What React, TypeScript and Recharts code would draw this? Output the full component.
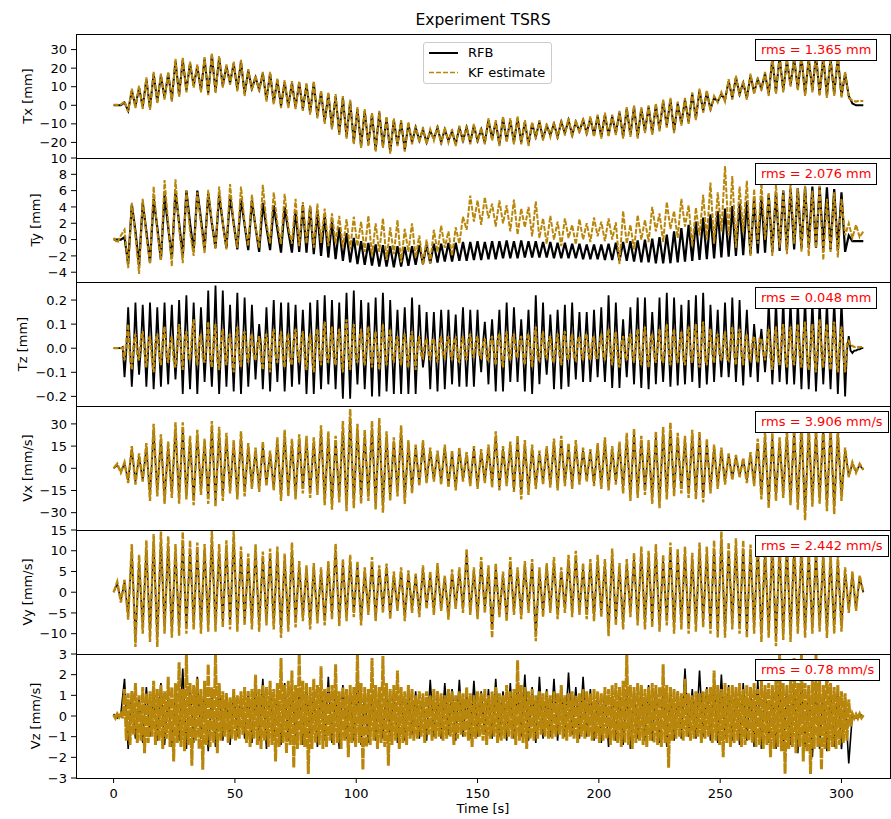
import React from "react";
import { LineChart, Line, XAxis, YAxis } from "recharts";

const SAMPLE_DT = 1.5;
const FINE_DT = 0.75;

const timeTicks = [0, 50, 100, 150, 200, 250, 300];

// Tx [mm]
const txRfb = [0,0,0,1.5,-3,8,-0.5,9.5,-1,14,-1.5,17,2,16,4,17,3,24,5.5,24.5,8,22.5,10.5,21,8,25,6.5,27,7.5,25.5,10.5,21,12,22.5,8.5,23.5,6,18.5,9,15,8.5,17,3,17,1.5,13.5,-0.5,12.5,-0.5,12,-1,
  12,-2,11,-4,12,-6,7,-9,6,-12,5,-15,4,-17,2,-20,-2,-22,-3,-21,-5,-24,-4,-22,-7,-25,-8,-21,-9,-24,-10,-20,-12,-19,-13,-20,-14,-18,-12,-20,-13,-19,-14,-21,-12,-19,-12,-20,-11,-19,-13,-20,-8,-18,-9,-21,-7,-19,-8,-20,-7,-20,-9,-21,-10,-17,-9,-18,-11,-16,-10,-17,-9,-15,-8,-16,-9,-14,-8,-15,-7,-16,
  -6,-17,-5,-16,-6,-15,-4,-17,-2,-16,-1,-17,-2,-14,-1,-15,0,-13,2,-11,3,-14,1,-10,3,-9,6,-7,8,-3,7,-2,4,2,6,3,13,4,15,6,12,4,16,7,14,9,17,6,25,7,26,8,24,11,25,9,26,6,25,8,27,6,26,5,25,6,26,5,17,5,1,0,0,0];
const txKf = [0.3,0.2,0.4,2,-3.5,9,-1.5,10.5,-2,15,-2.5,18,1,17,3,18,2,25,4.5,25.5,7,23.5,9.5,22,7,26,5.5,28,6.5,26.5,9.5,22,11,23.5,7.5,24.5,5,19.5,8,16,7.5,18,2,18,0.5,14.5,-1.5,13.5,-1.5,13,-2,
  13,-3,12,-5,13,-7,8,-10,7,-13,6,-16,5,-18,3,-21,-1,-23,-2,-22,-4,-25,-3,-23,-6,-26,-7,-22,-8,-25,-9,-21,-11,-20,-12,-21,-13,-19,-11,-21,-12,-20,-13,-22,-11,-20,-11,-21,-10,-20,-12,-21,-7,-19,-8,-22,-6,-20,-7,-21,-6,-21,-8,-22,-9,-18,-8,-19,-10,-17,-9,-18,-8,-16,-7,-17,-8,-15,-7,-16,-6,-17,
  -5,-18,-4,-17,-5,-16,-3,-18,-1,-17,0,-18,-1,-15,0,-16,1,-14,3,-12,4,-15,2,-11,4,-10,7,-8,9,-4,8,-3,5,1.5,7,2,14,3,16,5,13,3,17,6,15,8,18,5,26,6,27,7,25,10,26,8,27,5,26,7,28,5,27,4,26,5,27,4,18,4,2.5,2,2.5,2.2];

// Ty [mm]
const tyRfb = [0,0,0,0.3,-3,4.3,1,-3.2,4.5,1,-2.8,5,1.5,-2.5,5.5,1.5,-2.3,6,2,-2,6,2,-1.5,6,2.5,-1.2,5.6,2,-1,5.5,2,-1,5.3,2,-1.2,5,1.8,-1.3,4.8,1.5,-1.5,4.5,1.5,-1.3,4.2,1.3,-1.6,4,1,-1.6,3.6,
  -1.5,4.2,-1.6,4,-1.8,3.5,-2,3,-2.2,2.2,-2.4,1.5,-2.6,0.8,-2.8,0.2,-3,-0.2,-3.1,-0.4,-3.2,-0.6,-3.3,-0.7,-3.3,-0.8,-3.4,-0.8,-3.3,-0.9,-3.2,-0.8,-3.1,-0.7,-3,-0.6,-2.9,-0.5,-2.8,-0.5,-2.7,-0.4,-2.7,-0.4,-2.6,-0.3,-2.6,-0.3,-2.5,-0.2,-2.5,-0.3,-2.4,-0.2,-2.4,-0.2,-2.3,-0.1,-2.3,-0.2,-2.3,-0.1,-2.2,-0.2,-2.2,-0.2,-2.2,-0.3,-2.2,-0.3,-2.3,-0.4,-2.3,-0.4,-2.3,-0.5,-2.3,-0.5,-2.4,-0.6,-2.4,-0.6,
  -2.4,-0.6,-2.5,-0.5,-2.5,-0.4,-2.6,-0.3,-2.6,-0.2,-2.7,-0.1,-2.8,0,-2.8,0.1,-2.9,0.3,-2.9,0.6,-2.9,1,-2.8,1.4,-2.7,1.8,-2.6,2.2,-2.5,2.7,-2.4,3.1,-2.3,3.5,-2.2,3.8,-2.1,4.1,-2,4.4,-1.9,4.7,-1.8,5,-1.7,5.3,-1.6,5.5,-1.5,5.8,-1.4,6,-1.3,6.2,-1.2,6.3,-1.1,6.4,-1,6.5,-1,6.5,-1.1,6.4,-1.2,6.2,-1.3,5.8,-1.5,0.5,-0.2,-0.2,-0.2,-0.2];
const tyKf = [0.2,-0.4,0.5,1.2,-3.5,4.5,0.5,-4.2,5,0.5,-3,6.5,1,-2.5,7.3,2,-3.3,7.4,1.5,-2.9,6,1,-2,5.8,2,-1.7,6.1,2.2,-1.2,6.5,2,-1.2,6.8,1.8,-1,6.5,2,-0.8,5.5,1.5,-1,6.7,2,-0.5,5.8,2,-0.6,5.6,1.5,-0.5,5,
  -0.8,4.6,-0.5,4.2,-1,4.4,-0.4,3.8,-0.8,3.2,-0.5,2.9,-1,2.5,-1.2,2.8,-0.8,2.2,-1.5,2.9,-2,2,-1.5,2.6,-2.5,1.5,-1.8,2.4,-2.8,1.3,-1.5,2,-2.2,0.5,-3.1,0,-2.9,1.2,-1.5,1.7,-1,1,-2,1.5,-0.5,2.8,1.2,5.4,2.2,4.8,1.8,5.2,2.6,4.4,1.6,4.8,2,4.2,1,4.9,0.6,3.8,1.5,4,0.4,4.7,0.2,2.6,-0.5,2.9,0,2.2,-0.8,2.6,0.2,1.8,-0.6,2.5,0,2,-0.3,2.7,
  0.4,2.2,-0.2,2.6,0,2.1,-3,3.5,-0.5,1.8,-1.2,3,0,2.4,-0.3,4,1,3.2,-0.3,4.6,1.3,3.5,0.2,5,1.6,4.2,-0.8,3.9,0.5,5.5,0,7,-0.5,5.8,1,9,0.5,7.8,-1,6.5,0.9,7.2,-2,6.2,-0.5,7,0,5.8,-2,6.8,-1,6,-1.8,7,-0.5,6.3,-1.5,6.6,-2,6,-1,6.6,-2.5,5,-1.5,5.8,-2.2,5,0.5,2,0.2,1.8,0.3,1];

// Tz [mm]: spike extremes every 1.5 s, and the level read between them
const tzRfbPeaks = [0,0,0,-0.12,0.17,-0.16,0.19,-0.11,0.18,-0.16,0.19,-0.17,0.17,-0.16,0.19,-0.15,0.18,-0.13,0.2,-0.19,0.22,-0.17,0.19,-0.19,0.17,-0.14,0.24,-0.16,0.26,-0.19,0.24,-0.16,0.18,-0.18,0.23,-0.19,0.21,-0.16,0.18,-0.13,0.1,-0.17,0.17,-0.18,0.2,-0.14,0.19,-0.18,0.19,-0.16,0.18,
  -0.15,0.16,-0.19,0.19,-0.19,0.2,-0.17,0.22,-0.15,0.2,-0.17,0.19,-0.21,0.23,-0.21,0.24,-0.15,0.2,-0.17,0.19,-0.2,0.21,-0.2,0.23,-0.18,0.2,-0.19,0.16,-0.19,0.17,-0.19,0.21,-0.19,0.18,-0.08,0.15,-0.17,0.15,-0.18,0.16,-0.17,0.16,-0.15,0.14,-0.16,0.17,-0.16,0.16,-0.16,0.16,-0.1,0.11,-0.15,0.12,-0.18,0.16,-0.18,0.19,-0.14,0.17,-0.14,0.12,-0.18,0.16,-0.19,0.22,-0.15,0.19,-0.11,0.14,-0.17,0.16,-0.17,0.18,-0.16,0.19,-0.13,0.15,-0.14,0.15,-0.14,0.16,
  -0.12,0.17,-0.14,0.22,-0.165,0.19,-0.165,0.12,-0.12,0.17,-0.15,0.21,-0.165,0.21,-0.17,0.15,-0.15,0.21,-0.14,0.23,-0.16,0.21,-0.155,0.18,-0.15,0.2,-0.14,0.22,-0.165,0.23,-0.15,0.18,-0.14,0.16,-0.12,0.19,-0.12,0.21,-0.14,0.2,-0.155,0.16,-0.12,0.1,-0.14,0.08,-0.1,0.19,-0.15,0.2,-0.14,0.21,-0.15,0.2,-0.15,0.2,-0.17,0.21,-0.17,0.2,-0.18,0.21,-0.15,0.2,-0.17,0.2,-0.19,0.2,-0.2,0.05,-0.02,-0.01,-0.005,0];
const tzRfbBase = [0,0,0.005,-0.01,0.01,-0.02,0.01,0,0.02,-0.01,
  0.01,-0.02,0,0.01,-0.01,0.02,0,-0.01,0.01,0.02,
  -0.02,0,0.01,-0.01,0.02,0,-0.02,0.01,0,-0.01,
  0.02,0.01,-0.01,0.02,0,-0.01,0.01,-0.02,0.02,0,
  0.01,-0.01,0,0.02,-0.01,0.01,0,-0.02,0.01,0.02,
  -0.01,0,0.01,-0.02,0.02,0,-0.01,0.01,0.02,-0.01,
  0,0.01,-0.02,0.01,0,0.02,-0.01,0,0.01,-0.01,
  0.02,0,-0.01,0.01,0.02,-0.02,0,0.01,-0.01,0.02,
  0,-0.01,0.01,0,0.02,-0.02,0.01,0,-0.01,0.01,
  0.02,-0.01,0,0.01,-0.02,0.02,0,-0.01,0.01,0,
  -0.01,0.02,0,0.01,-0.01,0.02,-0.02,0,0.01,-0.01,
  0.02,0,-0.01,0.01,0,-0.02,0.02,0.01,-0.01,0,
  0.01,-0.01,0.02,0,-0.02,0.01,0,0.02,-0.01,0.01,
  0,-0.02,0.01,0.02,-0.01,0,0.01,-0.01,0.02,0,
  -0.01,0.01,0,0.02,-0.02,0.01,-0.01,0,0.02,0.01,
  -0.02,0,0.01,-0.01,0.02,0,-0.01,0.01,0,0.02,
  -0.01,0.01,0,-0.02,0.02,0.01,-0.01,0,0.01,-0.01,
  0.02,0,-0.01,0.02,0,-0.02,0.01,0.01,-0.01,0,
  0.02,-0.01,0.01,0,-0.02,0.02,0,-0.01,0.01,0.02,
  -0.01,0,0.02,-0.02,0.01,0,-0.01,0.01,0.02,-0.01,
  0.01,-0.01,-0.01,-0.01,-0.005,0];
const tzKfPeaks = [0,0,0,-0.05,0.1,-0.09,0.06,-0.05,0.07,-0.08,0.05,-0.1,0.06,-0.07,0.09,-0.06,0.05,-0.08,0.1,-0.09,0.07,-0.05,0.12,-0.07,0.06,-0.06,0.11,-0.08,0.1,-0.09,0.08,-0.07,0.06,-0.1,0.09,-0.08,0.07,-0.06,0.06,-0.05,0.05,-0.09,0.06,-0.1,0.08,-0.06,0.07,-0.08,0.06,-0.07,0.08,
  -0.06,0.07,-0.09,0.06,-0.1,0.08,-0.07,0.11,-0.06,0.09,-0.07,0.08,-0.1,0.12,-0.09,0.1,-0.06,0.08,-0.07,0.09,-0.08,0.07,-0.09,0.1,-0.07,0.08,-0.06,0.05,-0.07,0.06,-0.08,0.07,-0.09,0.05,-0.04,0.04,-0.05,0.04,-0.06,0.05,-0.04,0.05,-0.05,0.04,-0.06,0.05,-0.05,0.06,-0.04,0.05,-0.04,0.04,-0.05,0.05,-0.07,0.06,-0.08,0.07,-0.05,0.06,-0.04,0.05,-0.07,0.06,-0.08,0.09,-0.05,0.07,-0.04,0.05,-0.06,0.06,-0.07,0.07,-0.05,0.06,-0.05,0.05,-0.05,0.06,-0.05,0.05,
  -0.04,0.06,-0.05,0.08,-0.07,0.07,-0.08,0.05,-0.05,0.06,-0.06,0.08,-0.07,0.09,-0.08,0.06,-0.06,0.08,-0.06,0.1,-0.07,0.08,-0.06,0.07,-0.07,0.09,-0.06,0.1,-0.08,0.11,-0.07,0.08,-0.06,0.06,-0.05,0.07,-0.05,0.09,-0.07,0.08,-0.07,0.06,-0.05,0.05,-0.06,0.04,-0.05,0.08,-0.09,0.09,-0.07,0.1,-0.08,0.09,-0.07,0.1,-0.08,0.11,-0.09,0.1,-0.1,0.12,-0.08,0.1,-0.09,0.11,-0.1,0.09,-0.1,0.03,0.01,0.005,0.005,0.005];
const tzKfBase = [0,0,0,0.03,-0.04,0.02,-0.03,0.04,-0.02,0.03,
  -0.04,0.03,-0.02,0.04,-0.03,0.02,-0.05,0.03,-0.02,0.04,
  -0.03,0.05,-0.02,0.03,-0.04,0.02,-0.03,0.04,-0.05,0.03,
  -0.02,0.04,-0.03,0.02,-0.04,0.05,-0.02,0.03,-0.03,0.02,
  -0.04,0.03,-0.02,0.04,-0.03,0.02,-0.04,0.03,-0.05,0.04,
  -0.02,0.03,-0.04,0.02,-0.03,0.05,-0.02,0.04,-0.03,0.02,
  -0.04,0.03,-0.02,0.04,-0.03,0.02,-0.04,0.03,-0.02,0.03,
  -0.02,0.02,-0.03,0.02,-0.02,0.03,-0.02,0.02,-0.03,0.02,
  -0.02,0.03,-0.02,0.02,-0.03,0.02,-0.02,0.03,-0.02,0.02,
  -0.03,0.02,-0.02,0.03,-0.04,0.02,-0.03,0.04,-0.02,0.03,
  -0.03,0.02,-0.04,0.03,-0.02,0.04,-0.03,0.02,-0.03,0.04,
  -0.02,0.03,-0.03,0.04,-0.02,0.03,-0.04,0.02,-0.03,0.03,
  -0.04,0.02,-0.03,0.04,-0.03,0.02,-0.04,0.03,-0.02,0.04,
  -0.03,0.03,-0.04,0.02,-0.03,0.04,-0.02,0.03,-0.04,0.02,
  -0.03,0.04,-0.02,0.03,-0.04,0.03,-0.02,0.04,-0.03,0.02,
  -0.04,0.03,-0.02,0.04,-0.03,0.02,-0.04,0.03,-0.03,0.04,
  -0.02,0.03,-0.04,0.02,-0.03,0.04,-0.03,0.02,-0.04,0.03,
  -0.03,0.04,-0.02,0.03,-0.04,0.03,-0.03,0.04,-0.02,0.03,
  -0.04,0.03,-0.03,0.04,-0.02,0.03,-0.04,0.03,-0.03,0.04,
  -0.03,0.02,-0.04,0.03,-0.03,0.04,-0.02,0.03,-0.04,0.03,
  -0.03,0.02,0.01,0.005,0.005,0.005];

// Vx [mm/s]
const vxRfb = [0,2,-2,3,-8,13,-9,8,-8,14,-18,25,-16,20,-20,15,-17,26,-20,26,-18,19,-21,22,-15,17,-20,27,-22,24,-19,20,-14,16,-18,21,-16,14,-12,12,-14,15,-10,10,-13,18,-19,22,-16,17,-18,
  20,-14,19,-17,18,-15,25,-21,21,-24,19,-20,27,-25,33,-23,26,-20,22,-19,27,-24,29,-26,21,-19,18,-16,25,-20,16,-14,14,-10,16,-9,12,-8,10,-9,14,-11,10,-13,12,-8,9,-10,13,-12,11,-9,14,-11,21,-13,13,-10,15,-14,19,-18,16,-15,14,-12,10,-9,13,-11,17,-13,19,-10,14,-12,16,-9,12,-8,11,-10,
  14,-12,18,-13,13,-9,15,-14,20,-19,23,-17,19,-15,16,-20,21,-23,24,-18,26,-16,20,-14,19,-17,22,-18,21,-20,17,-14,14,-12,12,-9,9,-7,8,-5,6,-8,9,-10,17,-18,21,-23,20,-19,18,-17,22,-21,25,-24,27,-30,26,-22,24,-20,26,-25,26,-26,24,-19,12,-5,3,-2,2,-1];
const vxKf = [0,3,-3,4,-10,15,-11,10,-9,17,-22,30,-19,23,-24,18,-20,31,-24,31,-21,22,-25,26,-18,20,-24,32,-26,28,-22,24,-17,19,-21,25,-19,17,-14,14,-16,18,-12,12,-15,21,-22,26,-19,20,-21,
  23,-17,22,-20,21,-18,29,-25,25,-28,22,-23,32,-29,40,-27,30,-24,26,-22,32,-28,34,-30,25,-22,21,-19,29,-24,19,-17,16,-12,19,-10,14,-9,12,-11,16,-13,12,-15,14,-9,11,-12,15,-14,13,-10,16,-13,25,-15,15,-12,18,-16,22,-21,19,-18,16,-14,12,-11,15,-13,20,-15,22,-12,17,-14,19,-11,14,-9,13,-12,
  17,-14,21,-15,15,-11,18,-17,24,-22,27,-20,22,-18,19,-24,25,-27,28,-21,31,-19,24,-17,22,-20,26,-21,25,-23,20,-17,16,-14,14,-11,10,-8,9,-6,7,-10,11,-12,20,-21,25,-27,24,-22,21,-20,26,-25,29,-28,32,-35,30,-26,28,-24,31,-29,30,-31,28,-22,14,-6,4,-3,3,-1];

// Vy [mm/s]
const vyRfb = [0,2,-2,2.5,-5.5,10,-11,7.5,-8.5,10.5,-10,12,-11,12.5,-8.5,11.5,-9.5,10,-9,12,-8.5,10.5,-7.5,10,-8.5,10,-8,12.5,-8,10,-7,10.5,-7.5,12.5,-8,9.5,-7,8,-7.5,10,-8,8.5,-7,9,-7.5,9.5,-9.5,8,-8,10,-7,
  6.5,-6,5.5,-7.5,6,-6.5,5,-7,6.5,-5.5,10,-7,7,-6,7.5,-5,6.5,-7,5,-4.5,7,-6,5.5,-4,6,-5.5,4,-4,5,-6,4.5,-4,4,-5,5.5,-3.5,4,-4.5,6,-4,3.5,-5.5,4.5,-3.5,5,-4,9,-4.5,5,-5.5,7,-4,5.5,-9,6,-5,4,-6,7,-4.5,5,-5.5,6.5,-4,7,-10,5,-5,6,-4,7,-5.5,5,-4,7.5,-5,8.5,-4.5,6,-5.5,7,-6,
  7.5,-5,7,-9,9,-7,6,-7.5,7,-5,8,-7,9.5,-7.5,8.5,-7,10,-8,7.5,-7,10,-8.5,9,-7.5,9.5,-8.5,8,-8,10,-7,9.5,-8.5,10.5,-9.5,12.5,-9.5,10,-7.5,11,-8.5,10.5,-9.5,10,-8.5,11,-10,10,-9.5,11,-11,10,-10,11,-10,10.5,-8.5,10,-9.5,9,-8.5,9.5,-8,8.5,-9.5,8,-8.5,7.5,-8,5,-4,4,-4,3.5,0];
const vyKf = [0,2.5,-2.5,3,-6.6,11.6,-13.2,9,-10,12.5,-12,14,-13.2,14.6,-10,13.5,-11,11.6,-10.5,14.5,-10,12.5,-9,12,-10,11.6,-9.5,14.8,-9.5,11.6,-8.5,12.5,-9,14.8,-9.5,11,-8,9.3,-9,11.6,-9.5,9.8,-8,10.5,-9,11,-11,9.3,-9.5,12,-8.5,
  7.5,-7,6.5,-9,7,-7.5,6,-8,7.5,-6.6,11.7,-8.2,8,-7,9,-6,7.5,-8,6,-5.5,8.5,-7,6.5,-5,6.9,-6.5,5,-4.5,6,-7,5.3,-5,4.5,-6,6.5,-4,5,-5.5,7,-4.5,4,-6.6,5.5,-4,6,-5,10.5,-5.5,6,-6.5,8.5,-5,6.5,-11,7,-6,5,-7,8.5,-5.5,6,-6.5,7.5,-5,8,-11.8,6,-6,7,-5,8.5,-6.5,6,-5,9,-6,10,-5.5,7,-6.5,8,-7,
  9,-6,8,-10.6,10.5,-8,7,-9,8,-6,9.5,-8,11,-9,10,-8.5,11.6,-9.5,9,-8,12,-10,10.5,-9,11,-10,9.5,-9.5,12,-8.5,11,-10,12.5,-11,14.6,-11,12,-9,13,-10,12.5,-11,11.5,-10,13,-12,12,-11,13,-13,12,-11.5,13,-12,12.5,-10,11.5,-11,10.5,-10,11,-9.5,10,-11,9.5,-10,9,-9.5,6,-5,5,-4.5,4,0];

// Vz [mm/s]
const vzRfb = [0.1,-0.1,0.1,1.8,-1.6,1.2,-1.1,0.9,-1.3,1.4,-1,1.1,-1.2,1.6,-1.4,1,-1.5,1.3,-1.2,2.3,-1.6,1.5,-1.3,1.9,-1.1,1.4,-1.7,1.2,-1.5,1.6,-1.2,1.1,-1.4,1.3,-1,1,-1.1,1.2,-1.3,1.5,-1.2,1.8,-1.6,1.3,-1.1,1.2,-1.4,1.6,-1.2,1.4,-1,
  1.3,-1.4,1.6,-1.2,1.1,-1.5,1.4,-1.2,1.9,-1.3,1.2,-1.6,1.5,-1.1,1.3,-1.2,1.8,-1.4,1.1,-1.3,1,-1.2,1.3,-1.1,1.5,-1,1.2,-1.3,1.1,-1.2,1.3,-0.9,1.2,-1.1,1,-1.2,1.75,-1,1.2,-1.1,1.6,-0.9,1.3,-1.2,1.75,-1,1.1,-1.1,1.7,-1,1.2,-0.9,1.3,-1.1,1.8,-1,1.2,-1.2,1.6,-1.1,1.5,-1,2,-1.2,1.4,-1.3,1.9,-1.1,1.3,-1,1.8,-1.2,1.5,-1,2.1,-0.9,1.4,-1.1,1.9,-1,1.3,-1.2,
  1.1,-1.3,1.2,-1.5,1,-1.2,1.3,-1.4,1.2,-1.6,1.3,-1.1,1.4,-1.2,1.5,-1.2,1.4,-1.3,1.3,-1.5,1.4,-1.2,1.2,-1.1,2.3,-1,1.3,-1.1,2.2,-1,1.4,-1.2,1.6,-1.3,2,-1.1,1.5,-1.2,1.3,-1.4,1.6,-1.2,1.4,-1.5,1.7,-1.6,1.5,-1.3,1.4,-1.6,1.6,-1.7,1.5,-1.4,1.4,-1.8,1.6,-1.5,1.5,-2,1.4,-1.6,1.5,-1.7,1.3,-1.5,1.4,-1.6,0.8,-2.3,0.1,-0.1,0.1,-0.05];
const vzKf = [0.05,-0.1,0.1,-0.05,0.1,-0.1,1.3,-1.2,1.1,-1.4,1.2,-0.9,1.6,-1.3,1,-1.2,1.4,-1.8,1.1,-1.3,
  1.2,-1,1.7,-1.4,1.3,-1.2,1.5,-1.6,1.2,-1.1,1.9,-1.5,1.4,-2.2,1.6,-1.3,2.6,-1.5,1.3,-1.7,
  3,-1.4,1.6,-2.4,1.5,-1.2,1.8,-1.6,1.3,-2.6,1.7,-1.4,2.5,-1.5,1.4,-1.3,3,-1.8,1.6,-1.2,
  1.2,-1,1.1,-1.3,0.9,-1.1,1.3,-1.2,1,-1.1,1.2,-0.9,1.4,-1.3,1.2,-1.5,1.3,-1.1,2,-1.4,
  1.3,-1.6,1.5,-1.2,1.4,-1.5,1.7,-1.4,1.3,-2.2,1.6,-1.5,2.8,-1.3,1.5,-1.8,1.7,-1.4,2.2,-2.5,
  1.5,-1.6,3,-1.4,1.7,-1.5,1.6,-2.8,1.4,-1.6,1.8,-1.3,1.5,-1.4,2.4,-1.6,1.3,-1.5,1.4,-1.2,
  1.5,-1.4,2.5,-1.3,1.2,-1.6,1.4,-1.2,1.3,-2,1.5,-1.3,1.4,-1.5,3,-1.3,1.6,-2.6,1.4,-1.5,
  1.3,-1.4,2.8,-1.2,1.5,-1.6,1.4,-1.3,2.9,-1.5,1.6,-2.4,1.3,-1.4,1.5,-1.2,2.2,-1.6,1.4,-1.3,
  1.2,-1.4,1.5,-1.1,1.3,-1.2,1,-1.1,1.2,-1,1.1,-1.3,1.2,-0.9,1,-1.2,1.3,-1.1,1.2,-1,
  1.1,-1.2,1,-1.1,1.3,-1,1.2,-1.4,1,-1.1,1.2,-0.9,1.1,-1,1.4,-1.2,1.1,-1.5,1,-1.1,
  1.2,-1,1.1,-1.2,1.3,-1.4,1,-1.1,1.2,-1,1.4,-1.3,1.1,-1.2,1,-1.1,1.5,-1,1.2,-1.1,
  1.3,-1.4,2.7,-1.2,1.5,-1.3,1.4,-1.6,1.2,-1.1,1.3,-1.2,1,-1.1,1.2,-0.9,1.1,-1,1.2,-1.1,
  1,-1.1,1.2,-1,1.1,-0.9,1.5,-1.1,1,-1.2,1.1,-1,1.2,-1.1,1,-1.3,1.1,-1,1.3,-1.1,
  1.2,-1,1.1,-1.2,1.3,-1.1,1.2,-1.3,1.1,-1.2,1.4,-1.1,1.3,-1.4,1.5,-1.2,1.6,-1.3,1.4,-1.5,
  1.7,-1.3,3,-1.4,1.5,-1.6,1.4,-1.3,1.6,-1.2,1.5,-1.4,1.3,-1.5,1.4,-1.2,1.6,-1.3,1.5,-1.4,
  1.4,-1.5,2.5,-1.3,1.5,-2.5,1.4,-1.2,1.3,-1.1,1.2,-1,1.1,-1.2,1.8,-1,1.1,-1.2,1,-1.1,
  1.2,-1,1.1,-1.3,1.2,-1.1,1.3,-1,1.4,-1.3,2.2,-1.2,1.5,-1.4,1.3,-2,1.6,-1.3,1.4,-1.5,
  1.5,-1.3,1.4,-1.2,1.6,-1.5,1.3,-1.4,1.5,-1.2,1.4,-1.3,1.6,-1.5,1.3,-1.4,1.7,-1.6,1.5,-1.4,
  1.6,-2,1.5,-1.6,1.8,-1.5,3,-1.7,1.6,-2.8,1.5,-1.6,1.7,-1.5,2.8,-1.8,1.6,-1.5,3,-2.2,
  1.6,-1.7,1.5,-2.8,1.8,-1.6,3,-1.5,1.7,-2.6,1.5,-1.6,2.5,-1.7,1.6,-1.5,1.4,-1.6,1.5,-1.4,
  1.2,-1.3,1.1,-1.2,0.8,-0.5,0.1,-0.1,0.08,-0.1,0.1,-0.08,0.05];

const FONT = '"DejaVu Sans", sans-serif';
const GOLD = "#B8860B";
const PLOT_LEFT = 76;
const PLOT_RIGHT = 890;
const PLOT_TOP = 34;
const PANEL_H = 124;
const PAD = 12;
const X_AXIS_H = 30;

const minus = (s: string) => s.replace("-", "\u2212");
const intFmt = (v: number) => minus(String(v));
const oneDec = (v: number) => minus(v.toFixed(1));

// merge spike extremes with the level read between them (0.75 s apart)
const interleave = (peaks: number[], base: number[]) =>
  peaks.flatMap((v, i) => (i < base.length ? [v, base[i]] : [v]));

const toSeries = (vals: number[], dt: number) => vals.map((v, i) => ({ t: i * dt, v }));

const tzRfb = interleave(tzRfbPeaks, tzRfbBase);
const tzKf = interleave(tzKfPeaks, tzKfBase);

const panels = [
  { label: "Tx [mm]", labelX: 26.5, rfb: txRfb, rfbDt: SAMPLE_DT, kf: txKf, kfDt: SAMPLE_DT, rfbW: 2, kfW: 2.1, dash: "5 1.5", domain: [-28.4, 38.4], ticks: [-20, -10, 0, 10, 20, 30], fmt: intFmt, rms: "rms = 1.365 mm" },
  { label: "Ty [mm]", labelX: 35, rfb: tyRfb, rfbDt: SAMPLE_DT, kf: tyKf, kfDt: SAMPLE_DT, rfbW: 2.2, kfW: 2, dash: "5 1.5", domain: [-5.2, 10], ticks: [-4, -2, 0, 2, 4, 6, 8, 10], fmt: intFmt, rms: "rms = 2.076 mm" },
  { label: "Tz [mm]", labelX: 22, rfb: tzRfb, rfbDt: FINE_DT, kf: tzKf, kfDt: FINE_DT, rfbW: 1.8, kfW: 2.2, dash: "5 1.5", domain: [-0.24, 0.275], ticks: [-0.2, -0.1, 0, 0.1, 0.2], fmt: oneDec, rms: "rms = 0.048 mm" },
  { label: "Vx [mm/s]", labelX: 26.5, rfb: vxRfb, rfbDt: SAMPLE_DT, kf: vxKf, kfDt: SAMPLE_DT, rfbW: 1.6, kfW: 2.4, dash: "6 1.5", domain: [-41.7, 42.1], ticks: [-30, -15, 0, 15, 30], fmt: intFmt, rms: "rms = 3.906 mm/s" },
  { label: "Vy [mm/s]", labelX: 26.5, rfb: vyRfb, rfbDt: SAMPLE_DT, kf: vyKf, kfDt: SAMPLE_DT, rfbW: 1.6, kfW: 2.4, dash: "6 1.5", domain: [-14.9, 15], ticks: [-10, -5, 0, 5, 10, 15], fmt: intFmt, rms: "rms = 2.442 mm/s" },
  { label: "Vz [mm/s]", labelX: 35, rfb: vzRfb, rfbDt: SAMPLE_DT, kf: vzKf, kfDt: FINE_DT, rfbW: 1.6, kfW: 3, dash: "10 1", domain: [-3, 3], ticks: [-3, -2, -1, 0, 1, 2, 3], fmt: intFmt, rms: "rms = 0.78 mm/s" },
];

function Panel({ p, k }: { p: (typeof panels)[number]; k: number }) {
  const last = k === panels.length - 1;
  const top = PLOT_TOP + k * PANEL_H;
  const height = PAD + PANEL_H + (last ? X_AXIS_H : PAD);
  const axisText = { fill: "#000", fontSize: 13, fontFamily: FONT };
  return (
    <>
      <div style={{ position: "absolute", left: 0, top: top - PAD }}>
        <LineChart width={891} height={height} margin={{ top: PAD, right: 891 - PLOT_RIGHT, bottom: last ? 0 : PAD, left: PLOT_LEFT - 60 }}>
          <XAxis
            dataKey="t"
            type="number"
            domain={[-15.5, 320]}
            allowDataOverflow
            ticks={timeTicks}
            hide={!last}
            height={X_AXIS_H}
            tickSize={5}
            tickMargin={6}
            axisLine={false}
            tickLine={{ stroke: "#000" }}
            tick={axisText}
          />
          <YAxis
            type="number"
            domain={p.domain as [number, number]}
            allowDataOverflow
            ticks={p.ticks}
            interval={0}
            width={60}
            tickSize={5}
            tickMargin={4}
            axisLine={false}
            tickLine={{ stroke: "#000" }}
            tick={axisText}
            tickFormatter={p.fmt}
          />
          <Line data={toSeries(p.rfb, p.rfbDt)} dataKey="v" type="linear" stroke="#000" strokeWidth={p.rfbW} dot={false} isAnimationActive={false} />
          <Line data={toSeries(p.kf, p.kfDt)} dataKey="v" type="linear" stroke={GOLD} strokeWidth={p.kfW} strokeDasharray={p.dash} dot={false} isAnimationActive={false} />
        </LineChart>
      </div>
      <div style={{ position: "absolute", left: PLOT_LEFT, top, width: PLOT_RIGHT - PLOT_LEFT + 1, height: PANEL_H + 1, border: "1px solid #000", boxSizing: "border-box", pointerEvents: "none" }} />
      <div style={{ position: "absolute", left: p.labelX, top: top + PANEL_H / 2, transform: "translate(-50%, -50%) rotate(-90deg)", whiteSpace: "nowrap", fontSize: 13 }}>
        {p.label}
      </div>
      <div style={{ position: "absolute", left: 755, top: top + 5, border: "1px solid #000", background: "#fff", color: "#ff0000", fontSize: 13, lineHeight: "16px", padding: "2px 5px", whiteSpace: "nowrap" }}>
        {p.rms}
      </div>
    </>
  );
}

export default function App() {
  return (
    <div style={{ position: "relative", width: 891, height: 819, background: "#fff", fontFamily: FONT, color: "#000", overflow: "hidden" }}>
      <style>{"body{margin:0}"}</style>
      <div style={{ position: "absolute", left: PLOT_LEFT, width: PLOT_RIGHT - PLOT_LEFT, top: 11, textAlign: "center", fontSize: 15.6, lineHeight: "18px" }}>
        Experiment TSRS
      </div>
      {panels.map((p, k) => (
        <Panel key={p.label} p={p} k={k} />
      ))}
      <div style={{ position: "absolute", left: 423, top: 42, width: 129, height: 42, boxSizing: "border-box", border: "1px solid #cccccc", borderRadius: 3, background: "rgba(255,255,255,0.8)", fontSize: 13 }}>
        <svg width={34} height={42} style={{ position: "absolute", left: 0, top: 0 }}>
          <line x1={5} x2={34} y1={10} y2={10} stroke="#000" strokeWidth={2} />
          <line x1={5} x2={34} y1={29.5} y2={29.5} stroke={GOLD} strokeWidth={1.6} strokeDasharray="5 2" />
        </svg>
        <div style={{ position: "absolute", left: 44, top: 1, lineHeight: "18px" }}>RFB</div>
        <div style={{ position: "absolute", left: 44, top: 21, lineHeight: "18px", whiteSpace: "nowrap" }}>KF estimate</div>
      </div>
      <div style={{ position: "absolute", left: PLOT_LEFT, width: PLOT_RIGHT - PLOT_LEFT, top: 801, textAlign: "center", fontSize: 13, lineHeight: "16px" }}>
        Time [s]
      </div>
    </div>
  );
}
